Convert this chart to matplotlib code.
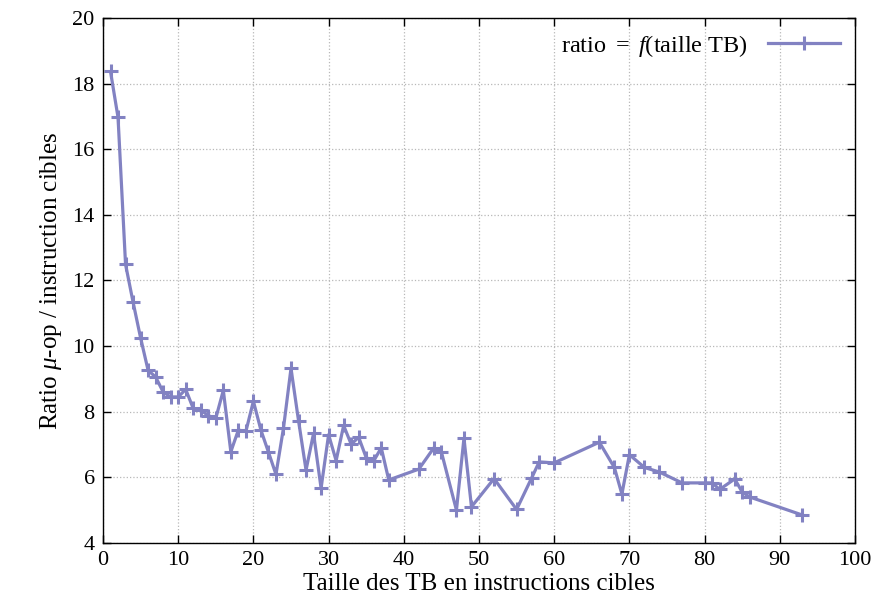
import matplotlib
matplotlib.use("Agg")
import matplotlib.pyplot as plt

# taille des TB (x) et ratio micro-op / instruction cible (y)
taille = [1, 2, 3, 4, 5, 6, 7, 8, 9, 10, 11, 12, 13, 14, 15, 16, 17, 18, 19, 20,
          21, 22, 23, 24, 25, 26, 27, 28, 29, 30, 31, 32, 33, 34, 35, 36, 37, 38,
          42, 44, 45, 47, 48, 49, 52, 55, 57, 58, 60, 66, 68, 69, 70, 72, 74,
          77, 80, 81, 82, 84, 85, 86, 93]
ratio = [18.37, 16.97, 12.49, 11.34, 10.25, 9.26, 9.06, 8.6, 8.45, 8.45, 8.68,
         8.1, 8.05, 7.88, 7.8, 8.65, 6.78, 7.44, 7.4, 8.32, 7.44, 6.77, 6.09,
         7.5, 9.32, 7.73, 6.22, 7.34, 5.67, 7.3, 6.51, 7.58, 7.01, 7.22, 6.6,
         6.5, 6.9, 5.92, 6.25, 6.9, 6.77, 5.0, 7.19, 5.1, 5.96, 5.02, 5.98,
         6.47, 6.44, 7.07, 6.3, 5.49, 6.69, 6.3, 6.16, 5.83, 5.83, 5.83, 5.63,
         5.95, 5.55, 5.4, 4.85]

xticks = list(range(0, 101, 10))
yticks = list(range(4, 21, 2))

plt.rcParams['font.family'] = ['Liberation Serif', 'DejaVu Serif']
plt.rcParams['mathtext.fontset'] = 'custom'
plt.rcParams['mathtext.rm'] = 'Liberation Serif'
plt.rcParams['mathtext.it'] = 'Liberation Serif:italic'

fig = plt.figure(figsize=(8.81, 6.08), dpi=100)
ax = fig.add_axes([0.1169, 0.107, 0.8536, 0.8634])

ax.plot(taille, ratio, color='#8282c2', linewidth=2.3, marker='+',
        markersize=10, markeredgewidth=2.2,
        label=r'ratio $=$ $f$(taille TB)')

ax.set_xlim(0, 100)
ax.set_ylim(4, 20)
ax.set_xticks(xticks)
ax.set_yticks(yticks)
ax.tick_params(direction='in', top=True, right=True, length=6, width=1,
               labelsize=16, pad=6)
ax.grid(True, linestyle=':', color='#b8b8b8', linewidth=0.9)
for s in ax.spines.values():
    s.set_linewidth(1.0)

ax.set_xlabel('Taille des TB en instructions cibles', fontsize=18, labelpad=2)
ax.set_ylabel(r'Ratio $\mu$-op / instruction cibles', fontsize=18, labelpad=6)

ax.legend(loc='upper right', frameon=False, markerfirst=False, fontsize=17.5,
          handlelength=3.0, borderaxespad=0.2)

fig.savefig('out.png', dpi=100)
